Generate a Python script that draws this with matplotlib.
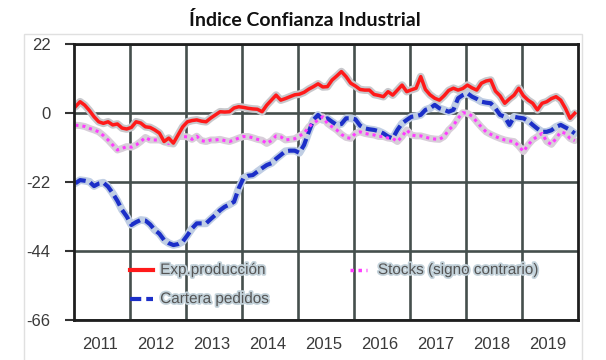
import numpy as np
from matplotlib import pyplot as plt
from matplotlib.patches import Rectangle
import matplotlib.patheffects as pe

# monthly series, Jan 2011 - Dec 2019
exp_produccion = [
    2.0, 3.6, 2.5, 0.8, -1.2, -2.8, -3.3, -2.8, -3.8, -3.5, -4.8, -5.1,
    -4.6, -2.8, -3.2, -4.4, -4.6, -5.4, -6.4, -9.1, -8.0, -9.6, -7.0, -4.4,
    -2.8, -2.4, -2.2, -2.6, -2.8, -1.6, -0.6, 0.4, 0.3, 0.4, 1.6, 2.0,
    1.8, 1.5, 1.3, 1.2, 0.4, 2.5, 4.1, 5.7, 4.1, 4.6, 5.2, 5.8,
    6.0, 6.6, 7.6, 8.4, 9.3, 8.3, 8.4, 10.5, 11.8, 13.2, 11.6, 9.5,
    8.6, 7.5, 7.3, 7.3, 5.9, 5.6, 5.2, 6.8, 5.7, 7.3, 8.9, 6.8,
    7.4, 7.9, 11.6, 7.5, 5.8, 4.7, 4.1, 5.5, 7.2, 7.9, 7.3, 7.8,
    8.9, 8.0, 7.3, 9.5, 10.2, 10.5, 7.0, 5.5, 3.1, 4.5, 5.7, 7.9,
    5.5, 4.1, 3.1, 1.0, 3.1, 3.6, 4.6, 5.2, 4.1, 1.5, -1.7, -0.1,
]
stocks = [
    -3.9, -4.0, -4.3, -4.9, -5.4, -6.0, -7.2, -8.6, -10.2, -11.8, -11.3, -10.7,
    -10.9, -10.2, -9.1, -7.8, -8.6, -8.6, -8.6, -9.1, -9.7, -9.9, -7.5, -7.5,
    -7.6, -8.4, -7.4, -8.8, -9.1, -8.6, -8.6, -8.4, -8.8, -9.1, -8.6, -8.0,
    -7.5, -7.5, -7.9, -8.4, -8.7, -9.7, -8.8, -7.3, -7.6, -8.6, -8.4, -8.2,
    -7.3, -6.5, -4.4, -3.3, -2.2, -1.2, -3.3, -4.4, -5.4, -6.8, -7.8, -8.1,
    -6.5, -6.0, -6.5, -6.8, -7.0, -7.5, -7.5, -8.0, -8.1, -9.1, -7.5, -5.4,
    -7.0, -7.3, -7.3, -7.7, -8.1, -8.3, -8.4, -7.5, -5.4, -4.0, -1.7, 0.1,
    -0.1, -1.0, -2.8, -4.5, -6.0, -6.8, -7.5, -8.1, -8.6, -8.9, -9.1, -10.5,
    -12.3, -10.2, -8.5, -7.5, -6.5, -9.1, -10.0, -8.1, -6.0, -6.5, -8.1, -8.8,
]
cartera = [
    -22.4, -21.4, -21.6, -21.9, -23.3, -22.5, -22.2, -23.5, -25.6, -28.0, -30.9, -33.0,
    -35.7, -34.8, -34.1, -34.3, -35.5, -37.3, -38.5, -40.5, -41.5, -42.1, -41.8, -41.0,
    -39.0, -36.8, -35.2, -35.2, -35.2, -33.8, -32.5, -31.0, -29.9, -29.2, -28.3, -24.0,
    -20.8, -20.0, -19.8, -18.7, -17.6, -16.6, -16.0, -14.6, -13.4, -12.2, -12.0, -12.0,
    -12.7, -10.2, -6.0, -2.2, -0.6, -2.2, -1.7, -2.8, -3.8, -3.5, -1.7, -1.7,
    -2.0, -4.0, -4.9, -5.2, -5.4, -5.8, -6.5, -7.5, -8.1, -5.4, -3.3, -2.2,
    -1.2, -1.0, -0.6, 1.0, 1.5, 2.6, 1.5, 1.0, 0.4, 1.0, 4.7, 5.7,
    6.3, 5.2, 4.5, 3.6, 3.3, 3.1, 1.5, -0.6, -1.2, -3.8, -1.2, -1.5,
    -1.7, -2.5, -3.8, -5.0, -6.0, -6.0, -5.5, -4.4, -3.8, -4.6, -5.4, -6.5,
]
years = ["2011", "2012", "2013", "2014", "2015", "2016", "2017", "2018", "2019"]
yticks = [22, 0, -22, -44, -66]

mes = np.arange(len(exp_produccion)) + 0.3

plt.rcParams['font.family'] = ['Liberation Sans', 'DejaVu Sans']

fig = plt.figure(figsize=(6.06, 3.6), dpi=100)
ax = fig.add_axes([74/606, 40/360, 504/606, 276/360])

# light frame round the chart area
fig.add_artist(Rectangle((24/606, -0.02), 558/606, 326/360 + 0.02, transform=fig.transFigure,
                         fill=False, edgecolor='#e0e0e0', linewidth=1))

# each series gets a soft glow underneath
ax.plot(mes, cartera, color='#c0cee4', linewidth=5.5, solid_capstyle='round', zorder=3)
ax.plot(mes, cartera, color='#1c2fc8', linewidth=3, linestyle=(0, (2.7, 1.2)), zorder=4)
ax.plot(mes, stocks, color='#d8ced9', linewidth=5, solid_capstyle='round', zorder=3)
ax.plot(mes, stocks, color='#ff3cff', linewidth=2.2, linestyle=(0, (1, 1.3)), zorder=4)
ax.plot(mes, exp_produccion, color='#c8c8cc', linewidth=5.5, solid_capstyle='round', zorder=5)
ax.plot(mes, exp_produccion, color='#ff1a1a', linewidth=2.5, zorder=6)

ax.set_xlim(0, 108)
ax.set_ylim(-66, 22)
ax.set_xticks(np.arange(12, 108, 12))
ax.set_xticks(np.arange(len(years)) * 12 + 5.5, minor=True)
ax.set_xticklabels(years, minor=True)
ax.tick_params(axis='x', which='both', length=0, labelbottom=False)
ax.tick_params(axis='x', which='minor', labelbottom=True, labelsize=12,
               labelcolor='#3a3a3a', pad=12)
ax.set_yticks(yticks)
ax.set_yticklabels([str(v) for v in yticks])
ax.tick_params(axis='y', length=6.5, width=1.5, color='#333333', pad=10.5,
               labelsize=12, labelcolor='#3a3a3a')
ax.grid(True, which='major', color='#454f4d', linewidth=1.9)
ax.set_axisbelow(True)
for s in ax.spines.values():
    s.set_color('#1e1e1e')
    s.set_linewidth(2)
    s.set_zorder(7)

# legend drawn by hand in axes fractions
halo = [pe.withStroke(linewidth=2.5, foreground='#c3d2da')]
tx = ax.transAxes
ax.plot([0.111, 0.157], [0.181, 0.181], color='#ff1a1a', linewidth=3, transform=tx, zorder=8)
ax.text(0.171, 0.181, "Exp.producción", transform=tx, fontsize=11, color='#555555',
        va='center', path_effects=halo, zorder=8)
ax.plot([0.111, 0.157], [0.076, 0.076], color='#1c2fc8', linewidth=3,
        linestyle=(0, (2.7, 1.2)), transform=tx, zorder=8)
ax.text(0.171, 0.076, "Cartera pedidos", transform=tx, fontsize=11, color='#555555',
        va='center', path_effects=halo, zorder=8)
ax.plot([0.548, 0.581], [0.181, 0.181], color='#ff3cff', linewidth=2.5,
        linestyle=(0, (1, 1.3)), transform=tx, zorder=8)
ax.text(0.603, 0.181, "Stocks (signo contrario)", transform=tx, fontsize=11, color='#555555',
        va='center', path_effects=halo, zorder=8)

fig.text(305/606, (360-26)/360, "Índice Confianza Industrial", ha='center', va='baseline',
         fontsize=14, fontweight='bold', family=['Lato', 'DejaVu Sans'], color='#111111')

fig.savefig("out.png", dpi=100)
